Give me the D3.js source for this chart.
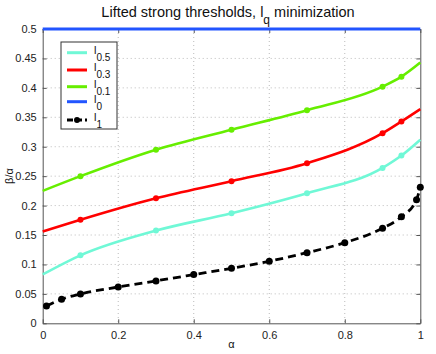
<!DOCTYPE html>
<html>
<head>
<meta charset="utf-8">
<script src="https://cdn.jsdelivr.net/npm/d3@7"></script>
<style>
  body { margin: 0; background: #fff; }
  svg text { font-family: "Liberation Sans", Arial, sans-serif; }
</style>
</head>
<body>
<div id="chart"></div>
<script>
// --- data ---
const alphaQ = [0, 0.1, 0.3, 0.5, 0.7, 0.9, 0.95, 1];
const markQ = [0.1, 0.3, 0.5, 0.7, 0.9, 0.95];
const l05 = [0.083, 0.1155, 0.1575, 0.187, 0.221, 0.264, 0.285, 0.312];
const l03 = [0.156, 0.176, 0.2125, 0.2415, 0.272, 0.323, 0.343, 0.364];
const l01 = [0.225, 0.25, 0.295, 0.329, 0.362, 0.402, 0.419, 0.443];
const alpha1 = [0.01, 0.05, 0.1, 0.2, 0.3, 0.4, 0.5, 0.6, 0.7, 0.8, 0.9, 0.95, 0.99, 1];
const l1 = [0.0294, 0.041, 0.0498, 0.0617, 0.072, 0.0827, 0.0935, 0.1054, 0.12, 0.137, 0.1615, 0.181, 0.21, 0.231];
const l0 = [0.5, 0.5];
const xTicks = [0, 0.2, 0.4, 0.6, 0.8, 1];
const yTicks = [0, 0.05, 0.1, 0.15, 0.2, 0.25, 0.3, 0.35, 0.4, 0.45, 0.5];

const W = 436, H = 354;
const margin = { left: 42.7, right: W - 420.3, top: 29, bottom: H - 323.3 };
const iw = W - margin.left - margin.right;
const ih = H - margin.top - margin.bottom;

const svg = d3.select("#chart").append("svg").attr("width", W).attr("height", H);
const g = svg.append("g").attr("transform", `translate(${margin.left},${margin.top})`);

const x = d3.scaleLinear().domain([0, 1]).range([0, iw]);
const y = d3.scaleLinear().domain([0, 0.5]).range([ih, 0]);

// grid
g.append("g").selectAll("line").data(xTicks.slice(1, -1)).join("line")
  .attr("x1", d => x(d)).attr("x2", d => x(d)).attr("y1", 0).attr("y2", ih)
  .attr("stroke", "#bbb").attr("stroke-width", 1).attr("stroke-dasharray", "1,3");
g.append("g").selectAll("line").data(yTicks.slice(1, -1)).join("line")
  .attr("x1", 0).attr("x2", iw).attr("y1", d => y(d)).attr("y2", d => y(d))
  .attr("stroke", "#bbb").attr("stroke-width", 1).attr("stroke-dasharray", "1,3");

// axes (box with inward ticks)
const axisColor = "#555";
const xAxis = g.append("g").attr("transform", `translate(0,${ih})`)
  .call(d3.axisBottom(x).tickValues(xTicks).tickFormat(d3.format("")).tickSizeInner(-4).tickSizeOuter(0).tickPadding(8));
const xTop = g.append("g").call(d3.axisTop(x).tickValues(xTicks).tickFormat("").tickSizeInner(-4).tickSizeOuter(0));
const yAxis = g.append("g")
  .call(d3.axisLeft(y).tickValues(yTicks).tickFormat(d3.format("")).tickSizeInner(-4).tickSizeOuter(0).tickPadding(6));
const yRight = g.append("g").attr("transform", `translate(${iw},0)`)
  .call(d3.axisRight(y).tickValues(yTicks).tickFormat("").tickSizeInner(-4).tickSizeOuter(0));
[xAxis, xTop, yAxis, yRight].forEach(a => {
  a.select(".domain").attr("stroke", axisColor);
  a.selectAll(".tick line").attr("stroke", axisColor);
  a.selectAll("text").attr("fill", "#222").style("font-size", "11px");
});

// series
const lineQ = vals => d3.line().curve(d3.curveMonotoneX)
  .x((d, i) => x(alphaQ[i])).y(d => y(d))(vals);

const series = [
  { name: "0.5", vals: l05, color: "#70f8d6" },
  { name: "0.3", vals: l03, color: "#ff0000" },
  { name: "0.1", vals: l01, color: "#66ee00" }
];

series.forEach(s => {
  g.append("path").attr("d", lineQ(s.vals)).attr("fill", "none")
    .attr("stroke", s.color).attr("stroke-width", 2.6);
  g.append("g").selectAll("circle").data(markQ).join("circle")
    .attr("cx", d => x(d)).attr("cy", d => y(s.vals[alphaQ.indexOf(d)]))
    .attr("r", 3).attr("fill", s.color);
});

// l0
g.append("path").attr("d", d3.line().x((d, i) => x(i)).y(d => y(d))(l0))
  .attr("fill", "none").attr("stroke", "#2255ff").attr("stroke-width", 3);

// l1
g.append("path").attr("d", d3.line().curve(d3.curveMonotoneX)
    .x((d, i) => x(alpha1[i])).y(d => y(d))(l1))
  .attr("fill", "none").attr("stroke", "#000").attr("stroke-width", 2.8)
  .attr("stroke-dasharray", "8,5");
g.append("g").selectAll("circle").data(l1).join("circle")
  .attr("cx", (d, i) => x(alpha1[i])).attr("cy", d => y(d))
  .attr("r", 3.5).attr("fill", "#000");

// legend
const lg = svg.append("g").attr("transform", "translate(61,42)");
lg.append("rect").attr("width", 56).attr("height", 87)
  .attr("fill", "#fff").attr("stroke", "#333").attr("stroke-width", 1);
const legendItems = [
  { sub: "0.5", color: "#70f8d6", dash: null },
  { sub: "0.3", color: "#ff0000", dash: null },
  { sub: "0.1", color: "#66ee00", dash: null },
  { sub: "0", color: "#2255ff", dash: null },
  { sub: "1", color: "#000", dash: "6,3" }
];
const rowY = [10.7, 28, 44.7, 59.7, 78];
legendItems.forEach((it, i) => {
  const ry = rowY[i];
  lg.append("line").attr("x1", 6).attr("x2", 26).attr("y1", ry).attr("y2", ry)
    .attr("stroke", it.color).attr("stroke-width", 3)
    .attr("stroke-dasharray", it.dash);
  if (it.dash) lg.append("circle").attr("cx", 16).attr("cy", ry).attr("r", 3).attr("fill", "#000");
  const t = lg.append("text").attr("x", 33).attr("y", ry + 1).style("font-size", "11px").attr("fill", "#111");
  t.append("tspan").text("l");
  t.append("tspan").attr("dy", 7).style("font-size", "10px").text(it.sub);
});

// title
const title = svg.append("text").attr("x", 228).attr("y", 17).attr("text-anchor", "middle")
  .style("font-size", "14.5px").attr("fill", "#111");
title.append("tspan").text("Lifted strong thresholds, l");
title.append("tspan").attr("dy", 7).style("font-size", "12px").text("q");
title.append("tspan").attr("dy", -7).text(" minimization");

// axis labels
svg.append("text").attr("x", margin.left + iw / 2).attr("y", 348).attr("text-anchor", "middle")
  .style("font-size", "11px").attr("fill", "#111").text("α");
svg.append("text").attr("transform", "translate(13,176) rotate(-90)").attr("text-anchor", "middle")
  .style("font-size", "11px").attr("fill", "#111").text("β/α");
</script>
</body>
</html>
